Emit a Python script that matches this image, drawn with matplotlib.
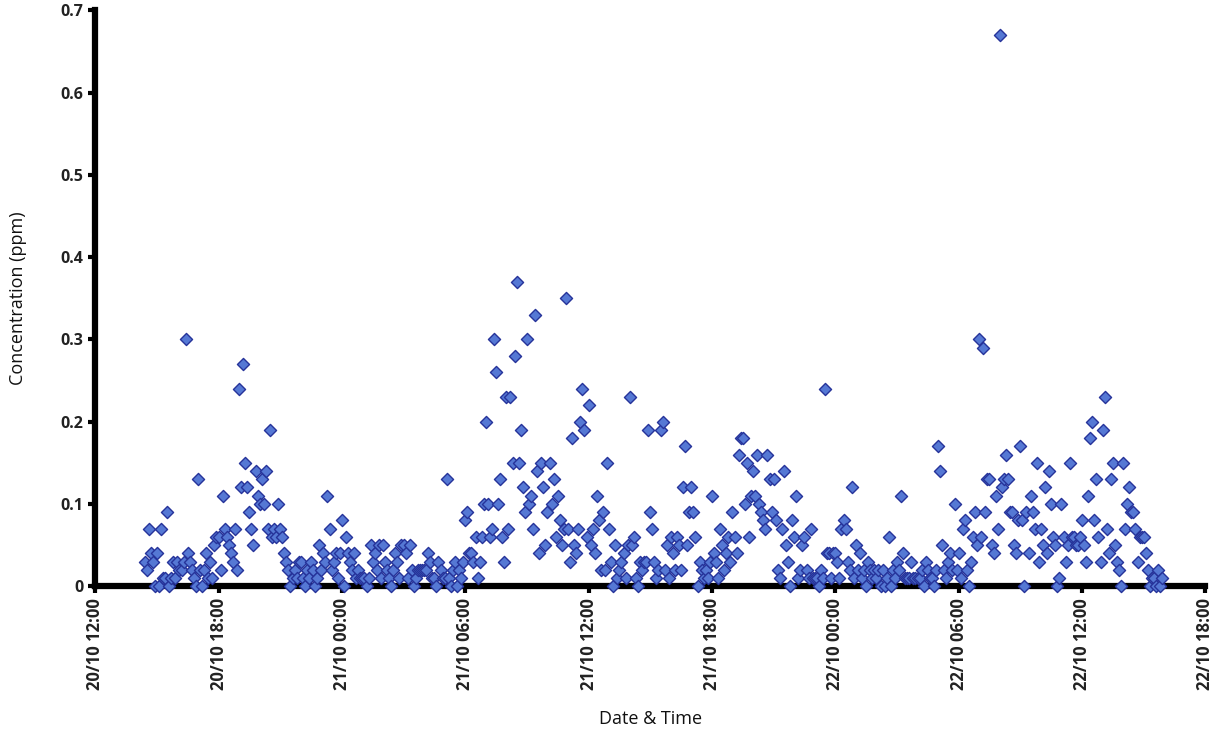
import matplotlib
matplotlib.use('Agg')
import matplotlib.pyplot as plt
import matplotlib.dates as mdates
import matplotlib.ticker as mticker
import numpy as np
import pandas as pd

plt.rcParams['font.family'] = ['Open Sans', 'DejaVu Sans']

# readings every 6 minutes, starting 20/10 14:24 (ppm)
day20 = [
    0.03, 0.02, 0.07, 0.04, 0.03, 0.00,                                 # 14h
    0.04, 0.00, 0.07, 0.01, 0.01, 0.09, 0.00, 0.01, 0.03, 0.01,         # 15h
    0.03, 0.02, 0.02, 0.03, 0.30, 0.04, 0.03, 0.02, 0.01, 0.00,         # 16h
    0.13, 0.02, 0.00, 0.02, 0.04, 0.01, 0.03, 0.01, 0.05, 0.06,         # 17h
    0.06, 0.02, 0.11, 0.07, 0.06, 0.05, 0.04, 0.03, 0.07, 0.02,         # 18h
    0.24, 0.12, 0.27, 0.15, 0.12, 0.09, 0.07, 0.05, 0.14, 0.11,         # 19h
    0.10, 0.13, 0.10, 0.14, 0.07, 0.19, 0.06, 0.07, 0.06, 0.10,         # 20h
    0.07, 0.06, 0.04, 0.03, 0.02, 0.00, 0.01, 0.02, 0.01, 0.03,         # 21h
    0.03, 0.01, 0.00, 0.02, 0.01, 0.03, 0.02, 0.00, 0.01, 0.05,         # 22h
    0.02, 0.04, 0.03, 0.11, 0.07, 0.02, 0.03, 0.04, 0.01, 0.04,         # 23h
]
day21 = [
    0.08, 0.00, 0.06, 0.04, 0.03, 0.02, 0.04, 0.01, 0.02, 0.01,         # 00h
    0.01, 0.01, 0.00, 0.01, 0.05, 0.03, 0.04, 0.02, 0.05, 0.01,         # 01h
    0.05, 0.03, 0.02, 0.01, 0.00, 0.02, 0.04, 0.03, 0.01, 0.05,         # 02h
    0.05, 0.04, 0.01, 0.05, 0.02, 0.00, 0.01, 0.02, 0.02, 0.02,         # 03h
    0.02, 0.02, 0.04, 0.03, 0.01, 0.01, 0.00, 0.03, 0.02, 0.01,         # 04h
    0.01, 0.13, 0.01, 0.00, 0.02, 0.03, 0.00, 0.02, 0.01, 0.03,         # 05h
    0.08, 0.09, 0.04, 0.04, 0.03, 0.06, 0.01, 0.03, 0.06, 0.10,         # 06h
    0.20, 0.10, 0.06, 0.07, 0.30, 0.26, 0.10, 0.13, 0.06, 0.03,         # 07h
    0.23, 0.07, 0.23, 0.15, 0.28, 0.37, 0.15, 0.19, 0.12, 0.09,         # 08h
    0.30, 0.10, 0.11, 0.07, 0.33, 0.14, 0.04, 0.15, 0.12, 0.05,         # 09h
    0.09, 0.15, 0.10, 0.13, 0.06, 0.11, 0.08, 0.05, 0.07, 0.35,         # 10h
    0.07, 0.03, 0.18, 0.05, 0.04, 0.07, 0.20, 0.24, 0.19, 0.06,         # 11h
    0.22, 0.05, 0.07, 0.04, 0.11, 0.08, 0.02, 0.09, 0.02, 0.15,         # 12h
    0.07, 0.03, 0.00, 0.05, 0.01, 0.02, 0.03, 0.04, 0.01, 0.05,         # 13h
    0.23, 0.05, 0.06, 0.01, 0.00, 0.03, 0.02, 0.03, 0.03, 0.19,         # 14h
    0.09, 0.07, 0.03, 0.01, 0.02, 0.19, 0.20, 0.02, 0.05, 0.01,         # 15h
    0.06, 0.04, 0.02, 0.06, 0.05, 0.02, 0.12, 0.17, 0.05, 0.09,         # 16h
    0.12, 0.09, 0.06, 0.00, 0.03, 0.02, 0.01, 0.02, 0.01, 0.03,         # 17h
    0.11, 0.04, 0.03, 0.01, 0.07, 0.05, 0.02, 0.04, 0.06, 0.03,         # 18h
    0.09, 0.06, 0.04, 0.16, 0.18, 0.18, 0.10, 0.15, 0.06, 0.11,         # 19h
    0.14, 0.11, 0.16, 0.10, 0.09, 0.08, 0.07, 0.16, 0.13, 0.09,         # 20h
    0.13, 0.08, 0.02, 0.01, 0.07, 0.14, 0.05, 0.03, 0.00, 0.08,         # 21h
    0.06, 0.11, 0.01, 0.02, 0.05, 0.06, 0.02, 0.01, 0.07, 0.01,         # 22h
    0.01, 0.01, 0.00, 0.02, 0.01, 0.24, 0.04, 0.04, 0.01, 0.04,         # 23h
]
day22 = [
    0.04, 0.03, 0.01, 0.07, 0.08, 0.07, 0.03, 0.02, 0.12, 0.01,         # 00h
    0.05, 0.02, 0.04, 0.01, 0.02, 0.00, 0.03, 0.02, 0.01, 0.02,         # 01h
    0.01, 0.02, 0.00, 0.02, 0.00, 0.01, 0.06, 0.00, 0.02, 0.01,         # 02h
    0.03, 0.02, 0.11, 0.04, 0.01, 0.01, 0.01, 0.03, 0.01, 0.01,         # 03h
    0.01, 0.01, 0.02, 0.00, 0.03, 0.02, 0.01, 0.01, 0.00, 0.02,         # 04h
    0.17, 0.14, 0.05, 0.02, 0.01, 0.03, 0.04, 0.02, 0.10, 0.02,         # 05h
    0.04, 0.01, 0.07, 0.08, 0.02, 0.00, 0.03, 0.06, 0.09, 0.05,         # 06h
    0.30, 0.06, 0.29, 0.09, 0.13, 0.13, 0.05, 0.04, 0.11, 0.07,         # 07h
    0.67, 0.12, 0.13, 0.16, 0.13, 0.09, 0.09, 0.05, 0.04, 0.08,         # 08h
    0.17, 0.08, 0.00, 0.09, 0.04, 0.11, 0.09, 0.07, 0.15, 0.03,         # 09h
    0.07, 0.05, 0.12, 0.04, 0.14, 0.10, 0.06, 0.05, 0.00, 0.01,         # 10h
    0.10, 0.06, 0.03, 0.05, 0.15, 0.06, 0.06, 0.05, 0.05, 0.06,         # 11h
    0.08, 0.05, 0.03, 0.11, 0.18, 0.20, 0.08, 0.13, 0.06, 0.03,         # 12h
    0.19, 0.23, 0.07, 0.04, 0.13, 0.15, 0.05, 0.03, 0.02, 0.00,         # 13h
    0.15, 0.07, 0.10, 0.12, 0.09, 0.09, 0.07, 0.03, 0.06, 0.06,         # 14h
    0.06, 0.04, 0.02, 0.00, 0.01, 0.01, 0.00, 0.02, 0.00, 0.01,         # 15h
]

conc = np.array(day20 + day21 + day22)
times = pd.date_range('2009-10-20 14:24', periods=len(conc), freq='6min')

fig = plt.figure(figsize=(12.2, 7.3), dpi=100)
ax = fig.add_axes([0.078, 0.197, 0.910, 0.789])

ax.scatter(times, conc, marker='D', s=38, facecolor='#5578d4',
           edgecolor='#26339a', linewidth=1.0, zorder=5, clip_on=False)

ax.set_xlim(pd.Timestamp('2009-10-20 12:00'), pd.Timestamp('2009-10-22 18:00'))
ax.set_ylim(0, 0.7)
ax.xaxis.set_major_locator(mdates.HourLocator(byhour=[0, 6, 12, 18]))
ax.xaxis.set_major_formatter(mdates.DateFormatter('%d/%m %H:%M'))
ax.yaxis.set_major_locator(mticker.MultipleLocator(0.1))
ax.yaxis.set_major_formatter(mticker.FuncFormatter(lambda v, p: '%g' % round(v, 2)))

for s in ['top', 'right']:
    ax.spines[s].set_visible(False)
for s in ['left', 'bottom']:
    ax.spines[s].set_linewidth(4.5)
    ax.spines[s].set_color('black')

ax.tick_params(axis='y', direction='out', length=5, width=3, labelsize=11.5,
               labelcolor='#222222')
ax.tick_params(axis='x', direction='out', length=5, width=3, labelsize=12,
               labelcolor='#222222', labelrotation=90)
for lbl in ax.get_xticklabels() + ax.get_yticklabels():
    lbl.set_fontweight('bold')

ax.set_xlabel('Date & Time', fontsize=13, color='#111111', labelpad=14)
ax.set_ylabel('Concentration (ppm)', fontsize=13, color='#111111', labelpad=24)

fig.savefig('out.png', dpi=100)
